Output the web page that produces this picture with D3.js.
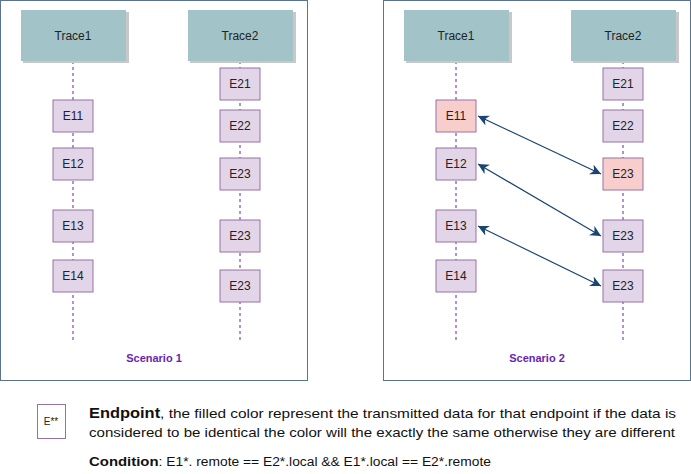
<!DOCTYPE html>
<html><head><meta charset="utf-8">
<script src="https://cdn.jsdelivr.net/npm/d3@7"></script>
<style>body{margin:0;background:#fff}text{font-family:"Liberation Sans",Arial,sans-serif}</style>
</head><body><svg width="691" height="474"></svg>
<script>
// Diagram data
const scenarios = ["Scenario 1", "Scenario 2"];
const traces = ["Trace1", "Trace2"];
const trace1Events = [{ label: "E11", t: 100 }, { label: "E12", t: 148 }, { label: "E13", t: 210 }, { label: "E14", t: 260 }];
const trace2Events = [{ label: "E21", t: 68 }, { label: "E22", t: 110 }, { label: "E23", t: 158 }, { label: "E23", t: 220 }, { label: "E23", t: 270 }];
const highlighted = [["E11", 0], ["E23", 2]]; // [label, index] filled red in scenario 2
const links = [[0, 2], [1, 3], [2, 4]]; // trace1 index -> trace2 index in scenario 2

const svg = d3.select("svg");
const defs = svg.append("defs");
["s", "e"].forEach(k => {
  defs.append("marker").attr("id", "arr" + k).attr("viewBox", "0 0 10 10")
    .attr("refX", 10).attr("refY", 5).attr("markerWidth", 9).attr("markerHeight", 9)
    .attr("orient", k === "e" ? "auto" : "auto-start-reverse")
    .append("path").attr("d", "M0,0 L10,5 L0,10 L3,5 Z").attr("fill", "#1a4570");
});

const panelX = d3.scalePoint().domain(scenarios).range([0, 383]);
const laneX = d3.scalePoint().domain(traces).range([73, 240]);
const y = d3.scaleLinear().domain([0, 474]).range([0, 474]);
const boxW = 40, boxH = 32;

scenarios.forEach((sc, si) => {
  const g = svg.append("g").attr("transform", `translate(${panelX(sc)},0)`);
  g.append("rect").attr("x", 0.5).attr("y", 0.5).attr("width", 307).attr("height", 380)
    .attr("fill", "#fff").attr("stroke", "#5a7391");

  traces.forEach(tr => {
    const cx = laneX(tr);
    g.append("line").attr("x1", cx).attr("x2", cx).attr("y1", y(61)).attr("y2", y(340))
      .attr("stroke", "#6a1fb0").attr("stroke-dasharray", "3,3");
    g.append("rect").attr("x", cx - 50).attr("y", y(12)).attr("width", 106).attr("height", 51).attr("fill", "#c8c8c8");
    g.append("rect").attr("x", cx - 52).attr("y", y(10)).attr("width", 105).attr("height", 51).attr("fill", "#a2c4c9");
    g.append("text").attr("x", cx).attr("y", y(40)).attr("text-anchor", "middle")
      .attr("font-size", 12).attr("fill", "#222").text(tr);
  });

  [trace1Events, trace2Events].forEach((evs, ti) => {
    const cx = laneX(traces[ti]);
    evs.forEach((e, i) => {
      const hot = si === 1 && highlighted.some(h => h[0] === e.label && h[1] === i);
      g.append("rect").attr("x", cx - boxW / 2).attr("y", y(e.t)).attr("width", boxW).attr("height", boxH)
        .attr("fill", hot ? "#f8cecc" : "#e1d5e7").attr("stroke", "#9673a6");
      g.append("text").attr("x", cx).attr("y", y(e.t) + 20).attr("text-anchor", "middle")
        .attr("font-size", 12).attr("fill", "#222").text(e.label);
    });
  });

  if (si === 1) {
    links.forEach(([a, b]) => {
      const ea = trace1Events[a], eb = trace2Events[b];
      g.append("line")
        .attr("x1", laneX(traces[0]) + boxW / 2 + 2).attr("y1", y(ea.t) + boxH / 2)
        .attr("x2", laneX(traces[1]) - boxW / 2 - 2).attr("y2", y(eb.t) + boxH / 2)
        .attr("stroke", "#1a4570").attr("stroke-width", 1.2)
        .attr("marker-start", "url(#arrs)").attr("marker-end", "url(#arre)");
    });
  }

  g.append("text").attr("x", 154).attr("y", y(362)).attr("text-anchor", "middle")
    .attr("font-size", 11).attr("font-weight", "bold").attr("fill", "#6a1fb0").text(sc);
});

// Legend
const lg = svg.append("g");
lg.append("rect").attr("x", 37.5).attr("y", 404.5).attr("width", 28).attr("height", 34)
  .attr("fill", "#fff").attr("stroke", "#9673a6");
lg.append("text").attr("x", 51).attr("y", 425).attr("text-anchor", "middle").attr("font-size", 10).attr("fill", "#222").text("E**");
const t1 = lg.append("text").attr("x", 89).attr("y", 418).attr("font-size", 13.6).attr("fill", "#111")
  .attr("textLength", 587).attr("lengthAdjust", "spacingAndGlyphs");
t1.append("tspan").attr("font-weight", "bold").attr("font-size", 14.5).text("Endpoint");
t1.append("tspan").text(", the filled color represent the transmitted data for that endpoint if the data is");
lg.append("text").attr("x", 89).attr("y", 437).attr("font-size", 13.6).attr("fill", "#111")
  .attr("textLength", 586).attr("lengthAdjust", "spacingAndGlyphs")
  .text("considered to be identical the color will the exactly the same otherwise they are different");
const t3 = lg.append("text").attr("x", 89).attr("y", 466).attr("font-size", 12.5).attr("fill", "#111")
  .attr("textLength", 402).attr("lengthAdjust", "spacingAndGlyphs");
t3.append("tspan").attr("font-weight", "bold").attr("font-size", 13.5).text("Condition");
t3.append("tspan").text(": E1*. remote == E2*.local && E1*.local == E2*.remote");
</script></body></html>
